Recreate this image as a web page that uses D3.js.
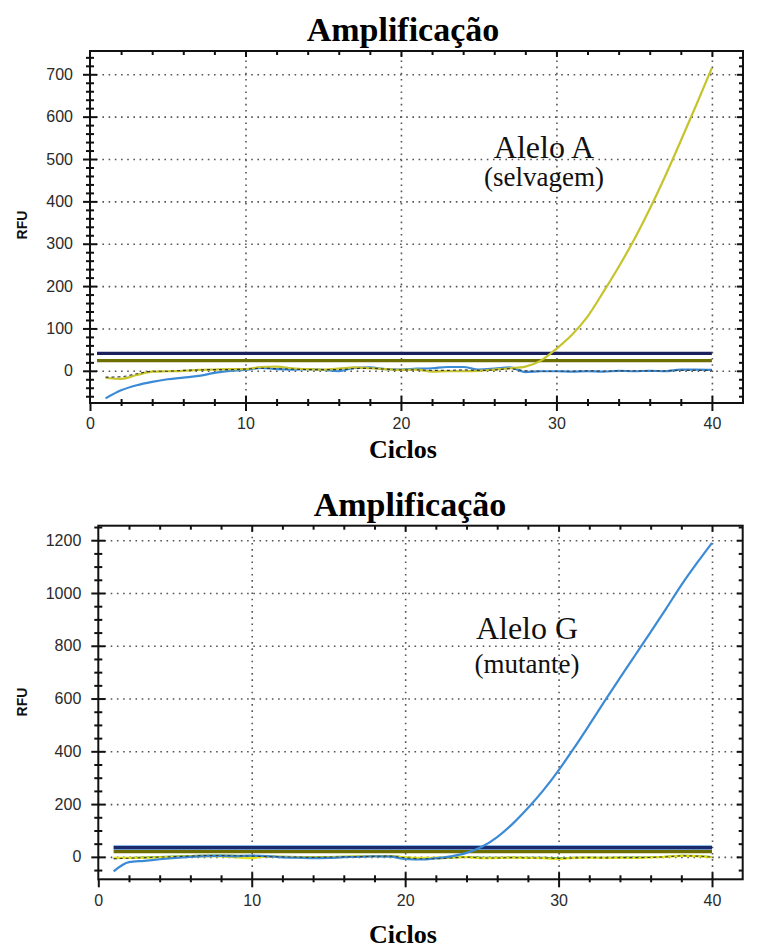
<!DOCTYPE html>
<html>
<head>
<meta charset="utf-8">
<script src="https://cdn.jsdelivr.net/npm/d3@7"></script>
<style>
  html, body { margin: 0; padding: 0; background: #fff; }
  svg { display: block; }
  .tick text { font-family: Arial, "Liberation Sans", sans-serif; fill: #2a2a2a; }
</style>
</head>
<body>
<svg id="chart" width="762" height="948"></svg>
<script>
// ---------------- DATA ----------------
const cycles = [1,2,3,4,5,6,7,8,9,10,11,12,13,14,15,16,17,18,19,20,21,22,23,24,25,26,27,28,29,30,31,32,33,34,35,36,37,38,39,40];

// Chart 1 – Alelo A (selvagem)
const topYellow = [-17,-19,-10,-2,-1,0,2,3,4,4,9,10,6,4,3,5,8,6,4,2,3,-2,-1,-1,0,3,6,10,24,52,85,128,185,245,310,382,460,543,628,715];
const topBlue   = [-65,-46,-34,-26,-20,-16,-12,-5,0,2,7,4,3,4,2,-1,7,8,4,3,5,6,9,9,3,5,8,-3,-1,-1,-2,-1,-2,0,-1,0,-1,3,3,2];
const topDark   = [-15,-14,-7,-1,-1,1,2,3,3,4,6,5,4,3,3,3,5,6,4,2,2,1,1,2,1,2,5,0,-1,-1,-1,0,-1,0,0,0,0,1,1,1];
const topThresholds = [41, 24];
const topYTicks = [0,100,200,300,400,500,600,700];
const topYMinor = [-60,-40,-20,20,40,60,80,120,140,160,180,220,240,260,280,320,340,360,380,420,440,460,480,520,540,560,580,620,640,660,680,720,740];

// Chart 2 – Alelo G (mutante)
const botBlue   = [-55,-20,-15,-9,-4,0,3,4,2,5,3,-2,-3,-5,-4,-1,0,2,1,-8,-10,-5,2,15,38,75,125,185,252,328,412,500,590,678,765,852,940,1030,1112,1190];
const botYellow = [-4,-4,-3,-2,0,2,3,2,-2,-5,2,0,-1,-3,-2,0,2,3,2,-2,-4,-3,-2,-1,-5,-4,-3,-4,-5,-8,-4,-3,-4,-3,-4,-2,0,4,3,-2];
const botGreen  = [-6,-4,-2,0,2,4,6,6,5,4,2,1,0,-1,0,1,2,3,4,-2,-6,-6,-3,0,-3,-3,-2,-3,-3,-5,-3,-2,-3,-2,-2,-1,1,5,4,0];
const botDark   = [-7,-5,-3,-1,1,3,5,5,4,3,1,0,-1,-2,-1,0,1,2,3,-3,-7,-7,-4,-1,-4,-4,-3,-4,-4,-6,-4,-3,-4,-3,-3,-2,0,4,3,-1];
const botThresholds = [35, 20];
const botYTicks = [0,200,400,600,800,1000,1200];
const botYMinor = [-50,50,100,150,250,300,350,450,500,550,650,700,750,850,900,950,1050,1100,1150,1250];

const xTicks = [0,10,20,30,40];
const xMinor = [2,4,6,8,12,14,16,18,22,24,26,28,32,34,36,38];
const xGrid = [10,20,30,40];

const titleText = "Amplificação";
const xLabel = "Ciclos";
const yLabel = "RFU";

// ---------------- DRAW ----------------
const svg = d3.select("#chart");

function drawChart(o) {
  const g = svg.append("g");
  const x = d3.scaleLinear().domain([0, 42]).range([o.left, o.right]);
  const y = d3.scaleLinear().domain(o.yDomain).range([o.bottom, o.top]);
  const W = o.right - o.left, H = o.bottom - o.top;

  // grid
  const grid = g.append("g");
  grid.append("g").attr("transform", `translate(0,${o.bottom})`)
    .call(d3.axisBottom(x).tickValues(xGrid).tickSize(-H).tickFormat(""))
    .call(s => s.select(".domain").remove())
    .selectAll("line").attr("stroke", "#555").attr("stroke-width", 1.6).attr("stroke-dasharray", "1.6,4.6");
  grid.append("g").attr("transform", `translate(${o.left},0)`)
    .call(d3.axisLeft(y).tickValues(o.yTicks).tickSize(-W).tickFormat(""))
    .call(s => s.select(".domain").remove())
    .selectAll("line").attr("stroke", "#555").attr("stroke-width", 1.6).attr("stroke-dasharray", "1.6,4.6");

  // threshold lines
  const thrColors = [o.navy, o.olive];
  o.thresholds.forEach((t, i) => {
    if (i === 0 && o.halo) {
      g.append("line")
        .attr("x1", x(o.thrStart)).attr("x2", x(40))
        .attr("y1", y(t)).attr("y2", y(t))
        .attr("stroke", o.halo).attr("stroke-width", 5.5);
    }
    g.append("line")
      .attr("x1", x(o.thrStart)).attr("x2", x(40))
      .attr("y1", y(t)).attr("y2", y(t))
      .attr("stroke", thrColors[i]).attr("stroke-width", 3.2);
  });

  const line = d3.line().x((d, i) => x(cycles[i])).y(d => y(d)).curve(d3.curveMonotoneX);
  o.series.forEach(s => {
    g.append("path").datum(s.values)
      .attr("d", line).attr("fill", "none")
      .attr("stroke", s.color).attr("stroke-width", s.width || 2)
      .attr("stroke-dasharray", s.dash || null);
  });

  // frame
  g.append("rect").attr("x", o.left).attr("y", o.top).attr("width", W).attr("height", H)
    .attr("fill", "none").attr("stroke", "#111").attr("stroke-width", 2);

  const tickStyle = s => { s.select(".domain").remove(); s.selectAll("line").attr("stroke", "#111").attr("stroke-width", 2); };
  const fmt = d3.format("d");

  // left axis: crossing ticks
  g.append("g").attr("transform", `translate(${o.left},0)`)
    .call(d3.axisLeft(y).tickValues(o.yMinor).tickSize(4).tickFormat("")).call(tickStyle);
  g.append("g").attr("transform", `translate(${o.left},0)`)
    .call(d3.axisRight(y).tickValues(o.yMinor).tickSize(4).tickFormat("")).call(tickStyle);
  g.append("g").attr("transform", `translate(${o.left},0)`)
    .call(d3.axisRight(y).tickValues(o.yTicks).tickSize(7).tickFormat("")).call(tickStyle);
  g.append("g").attr("transform", `translate(${o.left},0)`)
    .call(d3.axisLeft(y).tickValues(o.yTicks).tickSize(7).tickPadding(10).tickFormat(fmt)).call(tickStyle)
    .selectAll("text").attr("font-size", 16);

  // right axis (inward ticks)
  g.append("g").attr("transform", `translate(${o.right},0)`)
    .call(d3.axisLeft(y).tickValues(o.yMinor).tickSize(4).tickFormat("")).call(tickStyle);
  g.append("g").attr("transform", `translate(${o.right},0)`)
    .call(d3.axisLeft(y).tickValues(o.yTicks).tickSize(6).tickFormat("")).call(tickStyle);

  // bottom axis: crossing ticks
  g.append("g").attr("transform", `translate(0,${o.bottom})`)
    .call(d3.axisTop(x).tickValues(xMinor).tickSize(4).tickFormat("")).call(tickStyle);
  g.append("g").attr("transform", `translate(0,${o.bottom})`)
    .call(d3.axisBottom(x).tickValues(xMinor).tickSize(3).tickFormat("")).call(tickStyle);
  g.append("g").attr("transform", `translate(0,${o.bottom})`)
    .call(d3.axisTop(x).tickValues(xGrid).tickSize(7).tickFormat("")).call(tickStyle);
  g.append("g").attr("transform", `translate(0,${o.bottom})`)
    .call(d3.axisBottom(x).tickValues(xTicks).tickSize(8).tickPadding(7).tickFormat(fmt)).call(tickStyle)
    .selectAll("text").attr("font-size", 16);

  // top axis (inward ticks)
  g.append("g").attr("transform", `translate(0,${o.top})`)
    .call(d3.axisBottom(x).tickValues(xMinor).tickSize(4).tickFormat("")).call(tickStyle);
  g.append("g").attr("transform", `translate(0,${o.top})`)
    .call(d3.axisBottom(x).tickValues(xGrid).tickSize(6).tickFormat("")).call(tickStyle);

  // texts
  g.append("text").attr("x", o.titleX).attr("y", o.titleY).attr("text-anchor", "middle")
    .attr("font-family", "'Liberation Serif', 'Times New Roman', serif").attr("font-weight", "bold")
    .attr("font-size", 34).attr("fill", "#000").text(titleText);
  g.append("text").attr("x", o.xLabelX).attr("y", o.xLabelY).attr("text-anchor", "middle")
    .attr("font-family", "'Liberation Serif', 'Times New Roman', serif").attr("font-weight", "bold")
    .attr("font-size", 26).attr("fill", "#000").text(xLabel);
  g.append("text").attr("transform", `translate(${o.yLabelX},${o.yLabelY}) rotate(-90)`)
    .attr("text-anchor", "middle")
    .attr("font-family", "Arial, 'Liberation Sans', sans-serif").attr("font-weight", "bold")
    .attr("font-size", 14).attr("fill", "#111").text(yLabel);

  g.append("text").attr("x", o.annX).attr("y", o.annY1).attr("text-anchor", "middle")
    .attr("font-family", "'Liberation Serif', 'Times New Roman', serif")
    .attr("font-size", 32).attr("fill", "#111").text(o.ann1);
  g.append("text").attr("x", o.annX).attr("y", o.annY2).attr("text-anchor", "middle")
    .attr("font-family", "'Liberation Serif', 'Times New Roman', serif")
    .attr("font-size", 27).attr("fill", "#111").text(o.ann2);
}

drawChart({
  left: 90, right: 743, top: 51, bottom: 403,
  yDomain: [-76, 755], yTicks: topYTicks, yMinor: topYMinor,
  thresholds: topThresholds, thrStart: 0.45,
  navy: "#1b1f5c", olive: "#6e6e00", halo: null,
  series: [
    { values: topBlue, color: "#3b8ad6", width: 2.2 },
    { values: topYellow, color: "#c6c42c", width: 2.2 },
    { values: topDark, color: "#3a3a3a", width: 1.2, dash: "3,3" }
  ],
  titleX: 403, titleY: 41,
  xLabelX: 403, xLabelY: 458,
  yLabelX: 27, yLabelY: 225,
  annX: 544, annY1: 158, annY2: 186, ann1: "Alelo A", ann2: "(selvagem)"
});

drawChart({
  left: 98.3, right: 742.7, top: 525.7, bottom: 879.3,
  yDomain: [-85, 1255], yTicks: botYTicks, yMinor: botYMinor,
  thresholds: botThresholds, thrStart: 1,
  navy: "#1b2a6a", olive: "#6e6e00", halo: "#8dbbe8",
  series: [
    { values: botGreen, color: "#3c9a3c", width: 1.8 },
    { values: botYellow, color: "#e2e21c", width: 2.2 },
    { values: botBlue, color: "#3b8ad6", width: 2.2 },
    { values: botDark, color: "#3a3a3a", width: 1.1, dash: "3,3" }
  ],
  titleX: 410, titleY: 516,
  xLabelX: 403, xLabelY: 943,
  yLabelX: 27, yLabelY: 702,
  annX: 527, annY1: 639, annY2: 673, ann1: "Alelo G", ann2: "(mutante)"
});
</script>
</body>
</html>
